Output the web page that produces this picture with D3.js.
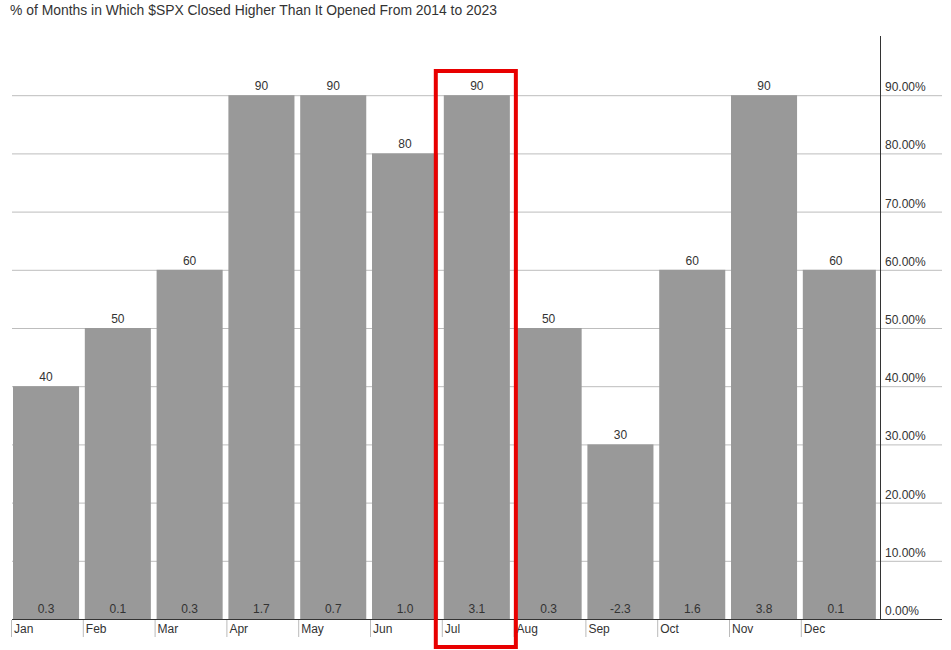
<!DOCTYPE html>
<html><head><meta charset="utf-8">
<script src="https://cdn.jsdelivr.net/npm/d3@7"></script>
<style>body{margin:0;background:#fff;font-family:Arial,"Liberation Sans",sans-serif;}</style>
</head><body>
<svg id="c" width="951" height="650"></svg>
<script>
const months = ["Jan","Feb","Mar","Apr","May","Jun","Jul","Aug","Sep","Oct","Nov","Dec"];
const pctHigher = [40,50,60,90,90,80,90,50,30,60,90,60];
const avgReturn = ["0.3","0.1","0.3","1.7","0.7","1.0","3.1","0.3","-2.3","1.6","3.8","0.1"];
const yTicks = [0,10,20,30,40,50,60,70,80,90];
const title = "% of Months in Which $SPX Closed Higher Than It Opened From 2014 to 2023";
const highlight = "Jul";

const svg = d3.select("#c");
const x = d3.scaleBand().domain(months).range([12, 873.6]).paddingInner(0.08).paddingOuter(0.04).align(0);
const y = d3.scaleLinear().domain([0, 100]).range([619, 37]);

svg.append("text").attr("x", 10).attr("y", 15).attr("font-size", 13.9).attr("fill", "#333").text(title);

// gridlines
svg.append("g").selectAll("line").data(yTicks.filter(d => d > 0)).join("line")
  .attr("x1", 12).attr("x2", 942).attr("y1", d => y(d) + 0.5).attr("y2", d => y(d) + 0.5)
  .attr("stroke", "#bdbdbd").attr("stroke-width", 1);

// bars
svg.append("g").selectAll("rect").data(months).join("rect")
  .attr("x", d => x(d) + 1)
  .attr("y", (d, i) => y(pctHigher[i]))
  .attr("width", (d, i) => i === months.length - 1 ? x.bandwidth() + 7 : x.bandwidth())
  .attr("height", (d, i) => y(0) - y(pctHigher[i]))
  .attr("fill", "#999999");

// top labels
svg.append("g").selectAll("text").data(months).join("text")
  .attr("x", d => x(d) + 1 + x.bandwidth() / 2)
  .attr("y", (d, i) => y(pctHigher[i]) - 5)
  .attr("text-anchor", "middle").attr("font-size", 12).attr("fill", "#333")
  .text((d, i) => pctHigher[i]);

// bottom labels
svg.append("g").selectAll("text").data(months).join("text")
  .attr("x", d => x(d) + 1 + x.bandwidth() / 2)
  .attr("y", y(0) - 6)
  .attr("text-anchor", "middle").attr("font-size", 12).attr("fill", "#333")
  .text((d, i) => avgReturn[i]);

// x axis
const xAxis = svg.append("g");
xAxis.append("line").attr("x1", 12).attr("x2", 942).attr("y1", 619.5).attr("y2", 619.5).attr("stroke", "#333");
xAxis.selectAll("line.tick").data(months).join("line").attr("class", "tick")
  .attr("x1", d => x(d) - 0.5).attr("x2", d => x(d) - 0.5).attr("y1", 620).attr("y2", 637)
  .attr("stroke", "#bbb");
xAxis.selectAll("text").data(months).join("text")
  .attr("x", d => x(d) + 2).attr("y", 633).attr("font-size", 12).attr("fill", "#333").text(d => d);

// right axis
const ra = svg.append("g");
ra.append("line").attr("x1", 880.5).attr("x2", 880.5).attr("y1", 36).attr("y2", 619).attr("stroke", "#333");
ra.selectAll("text").data(yTicks).join("text")
  .attr("x", 885).attr("y", d => y(d) - 4).attr("font-size", 12).attr("fill", "#333")
  .text(d => d3.format(".2f")(d) + "%");

// highlight
svg.append("rect").attr("x", x(highlight) - 7).attr("y", 71).attr("width", x.bandwidth() + 14).attr("height", 576)
  .attr("fill", "none").attr("stroke", "#e80000").attr("stroke-width", 4);
</script>
</body></html>
